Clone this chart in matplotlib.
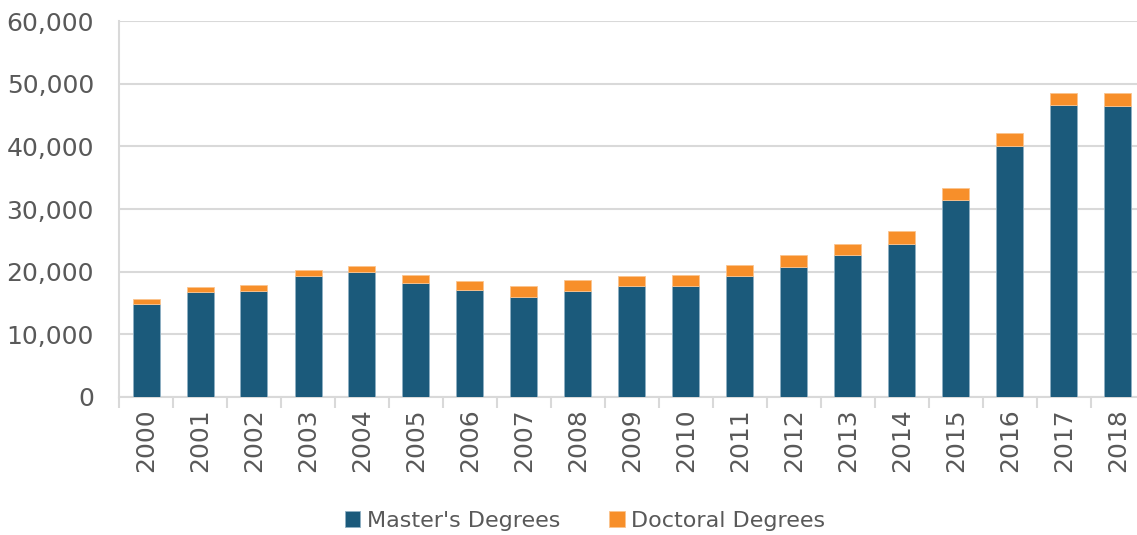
import matplotlib
matplotlib.use("Agg")
import matplotlib.pyplot as plt
import numpy as np

years = [str(y) for y in range(2000, 2019)]
masters = [14850, 16820, 16980, 19380, 20020, 18260, 17040, 16020, 16980, 17780,
           17780, 19380, 20820, 22680, 24400, 31420, 40040, 46530, 46370]
doctoral = [800, 750, 860, 850, 960, 1180, 1440, 1710, 1710, 1600,
            1710, 1660, 1760, 1810, 2010, 1970, 2080, 1980, 2080]
yticks = [0, 10000, 20000, 30000, 40000, 50000, 60000]

blue = "#1B5A7B"
orange = "#F78F2A"
grey = "#595959"
gridc = "#D9D9D9"

fig = plt.figure(figsize=(11.37, 5.35), dpi=100)
ax = fig.add_axes([119/1137, 138/535, 1026/1137, 376/535])

x = np.arange(len(years))
ax.bar(x, masters, width=0.5, color=blue, edgecolor="#8FB0C4", linewidth=0.6,
       label="Master's Degrees", zorder=3)
ax.bar(x, doctoral, width=0.5, bottom=masters, color=orange, edgecolor="#FBC48F",
       linewidth=0.6, label="Doctoral Degrees", zorder=3)

ax.set_xlim(-0.5, len(years) - 0.5)
ax.set_ylim(0, 60000)
ax.set_yticks(yticks)
ax.set_yticklabels([f"{v:,}" for v in yticks])
ax.yaxis.grid(True, color=gridc, linewidth=1.5, zorder=0)
ax.set_axisbelow(True)

ax.set_xticks(x)
ax.set_xticklabels(years, rotation=90)
ax.set_xticks(np.arange(-0.5, len(years) + 0.5, 1), minor=True)
ax.tick_params(axis="x", which="major", length=0, pad=8, labelsize=18, labelcolor=grey)
ax.tick_params(axis="x", which="minor", length=8, width=1.5, color=gridc)
ax.tick_params(axis="y", length=0, pad=18, labelsize=18, labelcolor=grey)

for s in ["top", "right"]:
    ax.spines[s].set_visible(False)
ax.spines["left"].set_color(gridc)
ax.spines["left"].set_linewidth(1.5)
ax.spines["bottom"].set_color(gridc)
ax.spines["bottom"].set_linewidth(1.5)

leg = fig.legend(loc="center", bbox_to_anchor=(585/1137, 1 - 521/535), ncol=2,
                 frameon=False, fontsize=16, handlelength=0.7, handleheight=0.7,
                 handletextpad=0.3, columnspacing=2.2)
for t in leg.get_texts():
    t.set_color(grey)

fig.savefig("out.png", dpi=100)
